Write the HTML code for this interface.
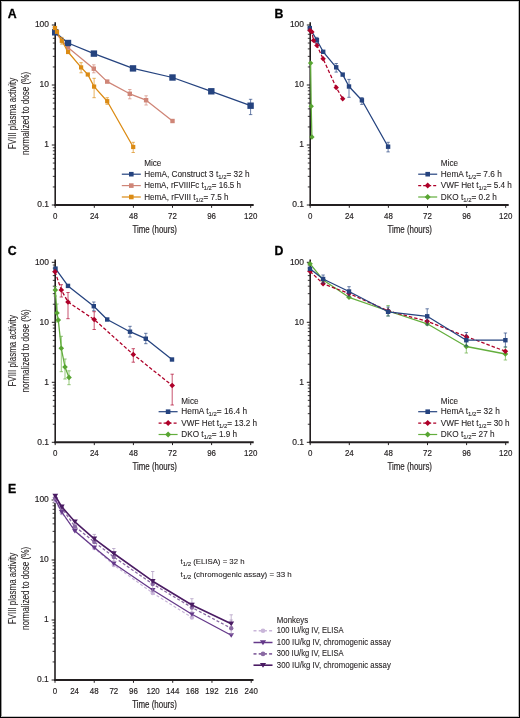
<!DOCTYPE html>
<html><head><meta charset="utf-8"><style>
html,body{margin:0;padding:0;background:#fff;}
body{width:520px;height:718px;overflow:hidden;}
.fig{position:relative;width:518px;height:716px;border:1px solid #000;box-sizing:content-box;}
svg{position:absolute;left:-1px;top:-1px;font-family:"Liberation Sans", sans-serif;will-change:transform;}
text{stroke:#231f20;stroke-width:0.1px;}
.num{stroke-width:0.2px;}
.let{stroke:#000;stroke-width:0.3px;}
</style></head><body><div class="fig">
<svg width="520" height="718" viewBox="0 0 520 718">
<line x1="55.2" y1="22.3" x2="55.2" y2="206" stroke="#231f20" stroke-width="1.6"/>
<line x1="54.400000000000006" y1="205" x2="253.7" y2="205" stroke="#231f20" stroke-width="2"/>
<line x1="51.800000000000004" y1="25" x2="55.2" y2="25" stroke="#231f20" stroke-width="1"/>
<line x1="52.800000000000004" y1="66.94" x2="55.2" y2="66.94" stroke="#231f20" stroke-width="0.9"/>
<line x1="52.800000000000004" y1="56.37" x2="55.2" y2="56.37" stroke="#231f20" stroke-width="0.9"/>
<line x1="52.800000000000004" y1="48.88" x2="55.2" y2="48.88" stroke="#231f20" stroke-width="0.9"/>
<line x1="52.800000000000004" y1="43.06" x2="55.2" y2="43.06" stroke="#231f20" stroke-width="0.9"/>
<line x1="52.800000000000004" y1="38.31" x2="55.2" y2="38.31" stroke="#231f20" stroke-width="0.9"/>
<line x1="52.800000000000004" y1="34.29" x2="55.2" y2="34.29" stroke="#231f20" stroke-width="0.9"/>
<line x1="52.800000000000004" y1="30.81" x2="55.2" y2="30.81" stroke="#231f20" stroke-width="0.9"/>
<line x1="52.800000000000004" y1="27.75" x2="55.2" y2="27.75" stroke="#231f20" stroke-width="0.9"/>
<line x1="51.800000000000004" y1="85" x2="55.2" y2="85" stroke="#231f20" stroke-width="1"/>
<line x1="52.800000000000004" y1="126.94" x2="55.2" y2="126.94" stroke="#231f20" stroke-width="0.9"/>
<line x1="52.800000000000004" y1="116.37" x2="55.2" y2="116.37" stroke="#231f20" stroke-width="0.9"/>
<line x1="52.800000000000004" y1="108.88" x2="55.2" y2="108.88" stroke="#231f20" stroke-width="0.9"/>
<line x1="52.800000000000004" y1="103.06" x2="55.2" y2="103.06" stroke="#231f20" stroke-width="0.9"/>
<line x1="52.800000000000004" y1="98.31" x2="55.2" y2="98.31" stroke="#231f20" stroke-width="0.9"/>
<line x1="52.800000000000004" y1="94.29" x2="55.2" y2="94.29" stroke="#231f20" stroke-width="0.9"/>
<line x1="52.800000000000004" y1="90.81" x2="55.2" y2="90.81" stroke="#231f20" stroke-width="0.9"/>
<line x1="52.800000000000004" y1="87.75" x2="55.2" y2="87.75" stroke="#231f20" stroke-width="0.9"/>
<line x1="51.800000000000004" y1="145" x2="55.2" y2="145" stroke="#231f20" stroke-width="1"/>
<line x1="52.800000000000004" y1="186.94" x2="55.2" y2="186.94" stroke="#231f20" stroke-width="0.9"/>
<line x1="52.800000000000004" y1="176.37" x2="55.2" y2="176.37" stroke="#231f20" stroke-width="0.9"/>
<line x1="52.800000000000004" y1="168.88" x2="55.2" y2="168.88" stroke="#231f20" stroke-width="0.9"/>
<line x1="52.800000000000004" y1="163.06" x2="55.2" y2="163.06" stroke="#231f20" stroke-width="0.9"/>
<line x1="52.800000000000004" y1="158.31" x2="55.2" y2="158.31" stroke="#231f20" stroke-width="0.9"/>
<line x1="52.800000000000004" y1="154.29" x2="55.2" y2="154.29" stroke="#231f20" stroke-width="0.9"/>
<line x1="52.800000000000004" y1="150.81" x2="55.2" y2="150.81" stroke="#231f20" stroke-width="0.9"/>
<line x1="52.800000000000004" y1="147.75" x2="55.2" y2="147.75" stroke="#231f20" stroke-width="0.9"/>
<line x1="51.800000000000004" y1="205" x2="55.2" y2="205" stroke="#231f20" stroke-width="1"/>
<line x1="55.20" y1="205" x2="55.20" y2="207.8" stroke="#231f20" stroke-width="1"/>
<line x1="94.30" y1="205" x2="94.30" y2="207.8" stroke="#231f20" stroke-width="1"/>
<line x1="133.40" y1="205" x2="133.40" y2="207.8" stroke="#231f20" stroke-width="1"/>
<line x1="172.50" y1="205" x2="172.50" y2="207.8" stroke="#231f20" stroke-width="1"/>
<line x1="211.60" y1="205" x2="211.60" y2="207.8" stroke="#231f20" stroke-width="1"/>
<line x1="250.70" y1="205" x2="250.70" y2="207.8" stroke="#231f20" stroke-width="1"/>
<text x="49.00" y="27.30" font-size="9.7" text-anchor="end" font-weight="normal" fill="#231f20" textLength="14.10" lengthAdjust="spacingAndGlyphs" class="num">100</text>
<text x="49.00" y="87.30" font-size="9.7" text-anchor="end" font-weight="normal" fill="#231f20" textLength="9.40" lengthAdjust="spacingAndGlyphs" class="num">10</text>
<text x="49.00" y="147.30" font-size="9.7" text-anchor="end" font-weight="normal" fill="#231f20" textLength="4.70" lengthAdjust="spacingAndGlyphs" class="num">1</text>
<text x="49.00" y="207.30" font-size="9.7" text-anchor="end" font-weight="normal" fill="#231f20" textLength="11.80" lengthAdjust="spacingAndGlyphs" class="num">0.1</text>
<text x="55.20" y="219.05" font-size="9.7" text-anchor="middle" font-weight="normal" fill="#231f20" textLength="4.40" lengthAdjust="spacingAndGlyphs" class="num">0</text>
<text x="94.30" y="219.05" font-size="9.7" text-anchor="middle" font-weight="normal" fill="#231f20" textLength="8.80" lengthAdjust="spacingAndGlyphs" class="num">24</text>
<text x="133.40" y="219.05" font-size="9.7" text-anchor="middle" font-weight="normal" fill="#231f20" textLength="8.80" lengthAdjust="spacingAndGlyphs" class="num">48</text>
<text x="172.50" y="219.05" font-size="9.7" text-anchor="middle" font-weight="normal" fill="#231f20" textLength="8.80" lengthAdjust="spacingAndGlyphs" class="num">72</text>
<text x="211.60" y="219.05" font-size="9.7" text-anchor="middle" font-weight="normal" fill="#231f20" textLength="8.80" lengthAdjust="spacingAndGlyphs" class="num">96</text>
<text x="250.70" y="219.05" font-size="9.7" text-anchor="middle" font-weight="normal" fill="#231f20" textLength="13.20" lengthAdjust="spacingAndGlyphs" class="num">120</text>
<text x="154.70" y="232.60" font-size="10.6" text-anchor="middle" font-weight="normal" fill="#231f20" textLength="44.60" lengthAdjust="spacingAndGlyphs" class="num">Time (hours)</text>
<g transform="translate(16.400000000000006,113.5) rotate(-90)">
<text x="0.00" y="0.00" font-size="10.4" text-anchor="middle" font-weight="normal" fill="#231f20" textLength="71.60" lengthAdjust="spacingAndGlyphs">FVIII plasma activity</text>
<text x="0.00" y="12.70" font-size="10.4" text-anchor="middle" font-weight="normal" fill="#231f20" textLength="83.20" lengthAdjust="spacingAndGlyphs">normalized to dose (%)</text>
</g>
<text x="7.80" y="18.00" font-size="12.3" text-anchor="start" font-weight="bold" fill="#000" class="let">A</text>
<path d="M92.1,64.8H95.5M93.8,64.8V72.8M92.1,72.8H95.5" stroke="#cf8577" stroke-width="0.85" stroke-opacity="0.8" fill="none"/>
<path d="M128.10000000000002,89.5H131.5M129.8,89.5V98.8M128.10000000000002,98.8H131.5" stroke="#cf8577" stroke-width="0.85" stroke-opacity="0.8" fill="none"/>
<path d="M144.4,95.8H147.79999999999998M146.1,95.8V105M144.4,105H147.79999999999998" stroke="#cf8577" stroke-width="0.85" stroke-opacity="0.8" fill="none"/>
<path d="M54.30,31.40 L68.00,47.60 L93.80,68.70 L107.20,81.60 L129.80,93.80 L146.10,100.20 L172.50,121.00" fill="none" stroke="#cf8577" stroke-width="1.28" stroke-linejoin="round"/>
<rect x="52.10" y="29.20" width="4.4" height="4.4" fill="#cf8577"/>
<rect x="65.80" y="45.40" width="4.4" height="4.4" fill="#cf8577"/>
<rect x="91.60" y="66.50" width="4.4" height="4.4" fill="#cf8577"/>
<rect x="105.00" y="79.40" width="4.4" height="4.4" fill="#cf8577"/>
<rect x="127.60" y="91.60" width="4.4" height="4.4" fill="#cf8577"/>
<rect x="143.90" y="98.00" width="4.4" height="4.4" fill="#cf8577"/>
<rect x="170.30" y="118.80" width="4.4" height="4.4" fill="#cf8577"/>
<path d="M248.9,99.3H252.29999999999998M250.6,99.3V114.6M248.9,114.6H252.29999999999998" stroke="#25437f" stroke-width="0.85" stroke-opacity="0.8" fill="none"/>
<path d="M55.20,32.30 L68.00,43.00 L93.90,53.60 L133.00,68.40 L172.50,77.50 L211.30,91.30 L250.60,105.70" fill="none" stroke="#25437f" stroke-width="1.28" stroke-linejoin="round"/>
<rect x="52.00" y="29.10" width="6.4" height="6.4" fill="#25437f"/>
<rect x="64.80" y="39.80" width="6.4" height="6.4" fill="#25437f"/>
<rect x="90.70" y="50.40" width="6.4" height="6.4" fill="#25437f"/>
<rect x="129.80" y="65.20" width="6.4" height="6.4" fill="#25437f"/>
<rect x="169.30" y="74.30" width="6.4" height="6.4" fill="#25437f"/>
<rect x="208.10" y="88.10" width="6.4" height="6.4" fill="#25437f"/>
<rect x="247.40" y="102.50" width="6.4" height="6.4" fill="#25437f"/>
<path d="M60.099999999999994,37.4H63.5M61.8,37.4V44.1M60.099999999999994,44.1H63.5" stroke="#db8b14" stroke-width="0.85" stroke-opacity="0.8" fill="none"/>
<path d="M79.39999999999999,62.7H82.8M81.1,62.7V72.8M79.39999999999999,72.8H82.8" stroke="#db8b14" stroke-width="0.85" stroke-opacity="0.8" fill="none"/>
<path d="M92.39999999999999,78.3H95.8M94.1,78.3V97.7M92.39999999999999,97.7H95.8" stroke="#db8b14" stroke-width="0.85" stroke-opacity="0.8" fill="none"/>
<path d="M105.5,97.7H108.9M107.2,97.7V104.3M105.5,104.3H108.9" stroke="#db8b14" stroke-width="0.85" stroke-opacity="0.8" fill="none"/>
<path d="M131.5,142.3H134.89999999999998M133.2,142.3V152.5M131.5,152.5H134.89999999999998" stroke="#db8b14" stroke-width="0.85" stroke-opacity="0.8" fill="none"/>
<path d="M55.00,28.00 L57.00,31.80 L61.80,40.80 L68.10,52.00 L81.10,67.40 L87.80,74.50 L94.10,86.60 L107.20,101.20 L133.20,147.00" fill="none" stroke="#db8b14" stroke-width="1.28" stroke-linejoin="round"/>
<rect x="52.90" y="25.90" width="4.2" height="4.2" fill="#db8b14"/>
<rect x="54.90" y="29.70" width="4.2" height="4.2" fill="#db8b14"/>
<rect x="59.70" y="38.70" width="4.2" height="4.2" fill="#db8b14"/>
<rect x="66.00" y="49.90" width="4.2" height="4.2" fill="#db8b14"/>
<rect x="79.00" y="65.30" width="4.2" height="4.2" fill="#db8b14"/>
<rect x="85.70" y="72.40" width="4.2" height="4.2" fill="#db8b14"/>
<rect x="92.00" y="84.50" width="4.2" height="4.2" fill="#db8b14"/>
<rect x="105.10" y="99.10" width="4.2" height="4.2" fill="#db8b14"/>
<rect x="131.10" y="144.90" width="4.2" height="4.2" fill="#db8b14"/>
<text x="144.20" y="165.90" font-size="8.6" text-anchor="start" font-weight="normal" fill="#231f20" textLength="17.20" lengthAdjust="spacingAndGlyphs">Mice</text>
<line x1="121.8" y1="174.2" x2="140.8" y2="174.2" stroke="#25437f" stroke-width="1.2"/>
<rect x="129.00" y="171.90" width="4.6" height="4.6" fill="#25437f"/>
<text x="144.20" y="176.70" font-size="8.6" text-anchor="start" font-weight="normal" fill="#231f20" textLength="105.40" lengthAdjust="spacingAndGlyphs">HemA, Construct 3 t<tspan font-size="6.2" dy="2.2">1/2</tspan><tspan dy="-2.2">= 32 h</tspan></text>
<line x1="121.8" y1="185.6" x2="140.8" y2="185.6" stroke="#cf8577" stroke-width="1.2"/>
<rect x="129.00" y="183.30" width="4.6" height="4.6" fill="#cf8577"/>
<text x="144.20" y="188.10" font-size="8.6" text-anchor="start" font-weight="normal" fill="#231f20" textLength="96.80" lengthAdjust="spacingAndGlyphs">HemA, rFVIIIFc t<tspan font-size="6.2" dy="2.2">1/2</tspan><tspan dy="-2.2">= 16.5 h</tspan></text>
<line x1="121.8" y1="197.0" x2="140.8" y2="197.0" stroke="#db8b14" stroke-width="1.2"/>
<rect x="129.00" y="194.70" width="4.6" height="4.6" fill="#db8b14"/>
<text x="144.20" y="199.50" font-size="8.6" text-anchor="start" font-weight="normal" fill="#231f20" textLength="84.40" lengthAdjust="spacingAndGlyphs">HemA, rFVIII t<tspan font-size="6.2" dy="2.2">1/2</tspan><tspan dy="-2.2">= 7.5 h</tspan></text>
<line x1="310.2" y1="22.3" x2="310.2" y2="206" stroke="#231f20" stroke-width="1.6"/>
<line x1="309.4" y1="205" x2="508.7" y2="205" stroke="#231f20" stroke-width="2"/>
<line x1="306.8" y1="25" x2="310.2" y2="25" stroke="#231f20" stroke-width="1"/>
<line x1="307.8" y1="66.94" x2="310.2" y2="66.94" stroke="#231f20" stroke-width="0.9"/>
<line x1="307.8" y1="56.37" x2="310.2" y2="56.37" stroke="#231f20" stroke-width="0.9"/>
<line x1="307.8" y1="48.88" x2="310.2" y2="48.88" stroke="#231f20" stroke-width="0.9"/>
<line x1="307.8" y1="43.06" x2="310.2" y2="43.06" stroke="#231f20" stroke-width="0.9"/>
<line x1="307.8" y1="38.31" x2="310.2" y2="38.31" stroke="#231f20" stroke-width="0.9"/>
<line x1="307.8" y1="34.29" x2="310.2" y2="34.29" stroke="#231f20" stroke-width="0.9"/>
<line x1="307.8" y1="30.81" x2="310.2" y2="30.81" stroke="#231f20" stroke-width="0.9"/>
<line x1="307.8" y1="27.75" x2="310.2" y2="27.75" stroke="#231f20" stroke-width="0.9"/>
<line x1="306.8" y1="85" x2="310.2" y2="85" stroke="#231f20" stroke-width="1"/>
<line x1="307.8" y1="126.94" x2="310.2" y2="126.94" stroke="#231f20" stroke-width="0.9"/>
<line x1="307.8" y1="116.37" x2="310.2" y2="116.37" stroke="#231f20" stroke-width="0.9"/>
<line x1="307.8" y1="108.88" x2="310.2" y2="108.88" stroke="#231f20" stroke-width="0.9"/>
<line x1="307.8" y1="103.06" x2="310.2" y2="103.06" stroke="#231f20" stroke-width="0.9"/>
<line x1="307.8" y1="98.31" x2="310.2" y2="98.31" stroke="#231f20" stroke-width="0.9"/>
<line x1="307.8" y1="94.29" x2="310.2" y2="94.29" stroke="#231f20" stroke-width="0.9"/>
<line x1="307.8" y1="90.81" x2="310.2" y2="90.81" stroke="#231f20" stroke-width="0.9"/>
<line x1="307.8" y1="87.75" x2="310.2" y2="87.75" stroke="#231f20" stroke-width="0.9"/>
<line x1="306.8" y1="145" x2="310.2" y2="145" stroke="#231f20" stroke-width="1"/>
<line x1="307.8" y1="186.94" x2="310.2" y2="186.94" stroke="#231f20" stroke-width="0.9"/>
<line x1="307.8" y1="176.37" x2="310.2" y2="176.37" stroke="#231f20" stroke-width="0.9"/>
<line x1="307.8" y1="168.88" x2="310.2" y2="168.88" stroke="#231f20" stroke-width="0.9"/>
<line x1="307.8" y1="163.06" x2="310.2" y2="163.06" stroke="#231f20" stroke-width="0.9"/>
<line x1="307.8" y1="158.31" x2="310.2" y2="158.31" stroke="#231f20" stroke-width="0.9"/>
<line x1="307.8" y1="154.29" x2="310.2" y2="154.29" stroke="#231f20" stroke-width="0.9"/>
<line x1="307.8" y1="150.81" x2="310.2" y2="150.81" stroke="#231f20" stroke-width="0.9"/>
<line x1="307.8" y1="147.75" x2="310.2" y2="147.75" stroke="#231f20" stroke-width="0.9"/>
<line x1="306.8" y1="205" x2="310.2" y2="205" stroke="#231f20" stroke-width="1"/>
<line x1="310.20" y1="205" x2="310.20" y2="207.8" stroke="#231f20" stroke-width="1"/>
<line x1="349.30" y1="205" x2="349.30" y2="207.8" stroke="#231f20" stroke-width="1"/>
<line x1="388.40" y1="205" x2="388.40" y2="207.8" stroke="#231f20" stroke-width="1"/>
<line x1="427.50" y1="205" x2="427.50" y2="207.8" stroke="#231f20" stroke-width="1"/>
<line x1="466.60" y1="205" x2="466.60" y2="207.8" stroke="#231f20" stroke-width="1"/>
<line x1="505.70" y1="205" x2="505.70" y2="207.8" stroke="#231f20" stroke-width="1"/>
<text x="304.00" y="27.30" font-size="9.7" text-anchor="end" font-weight="normal" fill="#231f20" textLength="14.10" lengthAdjust="spacingAndGlyphs" class="num">100</text>
<text x="304.00" y="87.30" font-size="9.7" text-anchor="end" font-weight="normal" fill="#231f20" textLength="9.40" lengthAdjust="spacingAndGlyphs" class="num">10</text>
<text x="304.00" y="147.30" font-size="9.7" text-anchor="end" font-weight="normal" fill="#231f20" textLength="4.70" lengthAdjust="spacingAndGlyphs" class="num">1</text>
<text x="304.00" y="207.30" font-size="9.7" text-anchor="end" font-weight="normal" fill="#231f20" textLength="11.80" lengthAdjust="spacingAndGlyphs" class="num">0.1</text>
<text x="310.20" y="219.05" font-size="9.7" text-anchor="middle" font-weight="normal" fill="#231f20" textLength="4.40" lengthAdjust="spacingAndGlyphs" class="num">0</text>
<text x="349.30" y="219.05" font-size="9.7" text-anchor="middle" font-weight="normal" fill="#231f20" textLength="8.80" lengthAdjust="spacingAndGlyphs" class="num">24</text>
<text x="388.40" y="219.05" font-size="9.7" text-anchor="middle" font-weight="normal" fill="#231f20" textLength="8.80" lengthAdjust="spacingAndGlyphs" class="num">48</text>
<text x="427.50" y="219.05" font-size="9.7" text-anchor="middle" font-weight="normal" fill="#231f20" textLength="8.80" lengthAdjust="spacingAndGlyphs" class="num">72</text>
<text x="466.60" y="219.05" font-size="9.7" text-anchor="middle" font-weight="normal" fill="#231f20" textLength="8.80" lengthAdjust="spacingAndGlyphs" class="num">96</text>
<text x="505.70" y="219.05" font-size="9.7" text-anchor="middle" font-weight="normal" fill="#231f20" textLength="13.20" lengthAdjust="spacingAndGlyphs" class="num">120</text>
<text x="409.70" y="232.60" font-size="10.6" text-anchor="middle" font-weight="normal" fill="#231f20" textLength="44.60" lengthAdjust="spacingAndGlyphs" class="num">Time (hours)</text>
<text x="274.40" y="18.00" font-size="12.3" text-anchor="start" font-weight="bold" fill="#000" class="let">B</text>
<path d="M310.60,63.10 L311.20,106.30 L311.90,137.00" fill="none" stroke="#63ae3d" stroke-width="1.28" stroke-linejoin="round"/>
<path d="M310.60,60.40 L313.30,63.10 L310.60,65.80 L307.90,63.10Z" fill="#58a532"/>
<path d="M311.20,103.60 L313.90,106.30 L311.20,109.00 L308.50,106.30Z" fill="#58a532"/>
<path d="M311.90,134.30 L314.60,137.00 L311.90,139.70 L309.20,137.00Z" fill="#58a532"/>
<path d="M315.2,37.4H318.59999999999997M316.9,37.4V43.5M315.2,43.5H318.59999999999997" stroke="#25437f" stroke-width="0.85" stroke-opacity="0.8" fill="none"/>
<path d="M334.5,63.5H337.9M336.2,63.5V72.1M334.5,72.1H337.9" stroke="#25437f" stroke-width="0.85" stroke-opacity="0.8" fill="none"/>
<path d="M347.3,79.4H350.7M349.0,79.4V97.3M347.3,97.3H350.7" stroke="#25437f" stroke-width="0.85" stroke-opacity="0.8" fill="none"/>
<path d="M360.2,97.6H363.59999999999997M361.9,97.6V104.4M360.2,104.4H363.59999999999997" stroke="#25437f" stroke-width="0.85" stroke-opacity="0.8" fill="none"/>
<path d="M386.40000000000003,142.3H389.8M388.1,142.3V151.9M386.40000000000003,151.9H389.8" stroke="#25437f" stroke-width="0.85" stroke-opacity="0.8" fill="none"/>
<path d="M309.80,28.10 L316.90,40.20 L323.20,51.80 L336.20,67.30 L342.70,74.60 L349.00,86.50 L361.90,100.30 L388.10,146.70" fill="none" stroke="#25437f" stroke-width="1.28" stroke-linejoin="round"/>
<rect x="307.60" y="25.90" width="4.4" height="4.4" fill="#25437f"/>
<rect x="314.70" y="38.00" width="4.4" height="4.4" fill="#25437f"/>
<rect x="321.00" y="49.60" width="4.4" height="4.4" fill="#25437f"/>
<rect x="334.00" y="65.10" width="4.4" height="4.4" fill="#25437f"/>
<rect x="340.50" y="72.40" width="4.4" height="4.4" fill="#25437f"/>
<rect x="346.80" y="84.30" width="4.4" height="4.4" fill="#25437f"/>
<rect x="359.70" y="98.10" width="4.4" height="4.4" fill="#25437f"/>
<rect x="385.90" y="144.50" width="4.4" height="4.4" fill="#25437f"/>
<path d="M310.00,30.40 L311.90,31.90 L313.50,40.40 L316.90,45.40 L323.10,58.80 L336.20,87.50 L342.70,98.70" fill="none" stroke="#ae0029" stroke-width="1.28" stroke-dasharray="3.5,2" stroke-linejoin="round"/>
<path d="M310.00,27.70 L312.70,30.40 L310.00,33.10 L307.30,30.40Z" fill="#ae0029"/>
<path d="M311.90,29.20 L314.60,31.90 L311.90,34.60 L309.20,31.90Z" fill="#ae0029"/>
<path d="M313.50,37.70 L316.20,40.40 L313.50,43.10 L310.80,40.40Z" fill="#ae0029"/>
<path d="M316.90,42.70 L319.60,45.40 L316.90,48.10 L314.20,45.40Z" fill="#ae0029"/>
<path d="M323.10,56.10 L325.80,58.80 L323.10,61.50 L320.40,58.80Z" fill="#ae0029"/>
<path d="M336.20,84.80 L338.90,87.50 L336.20,90.20 L333.50,87.50Z" fill="#ae0029"/>
<path d="M342.70,96.00 L345.40,98.70 L342.70,101.40 L340.00,98.70Z" fill="#ae0029"/>
<text x="440.80" y="165.90" font-size="8.6" text-anchor="start" font-weight="normal" fill="#231f20" textLength="17.20" lengthAdjust="spacingAndGlyphs">Mice</text>
<line x1="418.2" y1="174.2" x2="437.2" y2="174.2" stroke="#25437f" stroke-width="1.2"/>
<rect x="425.40" y="171.90" width="4.6" height="4.6" fill="#25437f"/>
<text x="440.80" y="176.70" font-size="8.6" text-anchor="start" font-weight="normal" fill="#231f20" textLength="61.00" lengthAdjust="spacingAndGlyphs">HemA t<tspan font-size="6.2" dy="2.2">1/2</tspan><tspan dy="-2.2">= 7.6 h</tspan></text>
<line x1="418.2" y1="185.6" x2="437.2" y2="185.6" stroke="#ae0029" stroke-width="1.2" stroke-dasharray="3,2"/>
<path d="M427.70,182.60 L430.70,185.60 L427.70,188.60 L424.70,185.60Z" fill="#ae0029"/>
<text x="440.80" y="188.10" font-size="8.6" text-anchor="start" font-weight="normal" fill="#231f20" textLength="71.10" lengthAdjust="spacingAndGlyphs">VWF Het t<tspan font-size="6.2" dy="2.2">1/2</tspan><tspan dy="-2.2">= 5.4 h</tspan></text>
<line x1="418.2" y1="197.0" x2="437.2" y2="197.0" stroke="#63ae3d" stroke-width="1.2"/>
<path d="M427.70,194.00 L430.70,197.00 L427.70,200.00 L424.70,197.00Z" fill="#58a532"/>
<text x="440.80" y="199.50" font-size="8.6" text-anchor="start" font-weight="normal" fill="#231f20" textLength="56.10" lengthAdjust="spacingAndGlyphs">DKO t<tspan font-size="6.2" dy="2.2">1/2</tspan><tspan dy="-2.2">= 0.2 h</tspan></text>
<line x1="55.2" y1="259.6" x2="55.2" y2="443.3" stroke="#231f20" stroke-width="1.6"/>
<line x1="54.400000000000006" y1="442.3" x2="253.7" y2="442.3" stroke="#231f20" stroke-width="2"/>
<line x1="51.800000000000004" y1="262.3" x2="55.2" y2="262.3" stroke="#231f20" stroke-width="1"/>
<line x1="52.800000000000004" y1="304.24" x2="55.2" y2="304.24" stroke="#231f20" stroke-width="0.9"/>
<line x1="52.800000000000004" y1="293.67" x2="55.2" y2="293.67" stroke="#231f20" stroke-width="0.9"/>
<line x1="52.800000000000004" y1="286.18" x2="55.2" y2="286.18" stroke="#231f20" stroke-width="0.9"/>
<line x1="52.800000000000004" y1="280.36" x2="55.2" y2="280.36" stroke="#231f20" stroke-width="0.9"/>
<line x1="52.800000000000004" y1="275.61" x2="55.2" y2="275.61" stroke="#231f20" stroke-width="0.9"/>
<line x1="52.800000000000004" y1="271.59" x2="55.2" y2="271.59" stroke="#231f20" stroke-width="0.9"/>
<line x1="52.800000000000004" y1="268.11" x2="55.2" y2="268.11" stroke="#231f20" stroke-width="0.9"/>
<line x1="52.800000000000004" y1="265.05" x2="55.2" y2="265.05" stroke="#231f20" stroke-width="0.9"/>
<line x1="51.800000000000004" y1="322.3" x2="55.2" y2="322.3" stroke="#231f20" stroke-width="1"/>
<line x1="52.800000000000004" y1="364.24" x2="55.2" y2="364.24" stroke="#231f20" stroke-width="0.9"/>
<line x1="52.800000000000004" y1="353.67" x2="55.2" y2="353.67" stroke="#231f20" stroke-width="0.9"/>
<line x1="52.800000000000004" y1="346.18" x2="55.2" y2="346.18" stroke="#231f20" stroke-width="0.9"/>
<line x1="52.800000000000004" y1="340.36" x2="55.2" y2="340.36" stroke="#231f20" stroke-width="0.9"/>
<line x1="52.800000000000004" y1="335.61" x2="55.2" y2="335.61" stroke="#231f20" stroke-width="0.9"/>
<line x1="52.800000000000004" y1="331.59" x2="55.2" y2="331.59" stroke="#231f20" stroke-width="0.9"/>
<line x1="52.800000000000004" y1="328.11" x2="55.2" y2="328.11" stroke="#231f20" stroke-width="0.9"/>
<line x1="52.800000000000004" y1="325.05" x2="55.2" y2="325.05" stroke="#231f20" stroke-width="0.9"/>
<line x1="51.800000000000004" y1="382.3" x2="55.2" y2="382.3" stroke="#231f20" stroke-width="1"/>
<line x1="52.800000000000004" y1="424.24" x2="55.2" y2="424.24" stroke="#231f20" stroke-width="0.9"/>
<line x1="52.800000000000004" y1="413.67" x2="55.2" y2="413.67" stroke="#231f20" stroke-width="0.9"/>
<line x1="52.800000000000004" y1="406.18" x2="55.2" y2="406.18" stroke="#231f20" stroke-width="0.9"/>
<line x1="52.800000000000004" y1="400.36" x2="55.2" y2="400.36" stroke="#231f20" stroke-width="0.9"/>
<line x1="52.800000000000004" y1="395.61" x2="55.2" y2="395.61" stroke="#231f20" stroke-width="0.9"/>
<line x1="52.800000000000004" y1="391.59" x2="55.2" y2="391.59" stroke="#231f20" stroke-width="0.9"/>
<line x1="52.800000000000004" y1="388.11" x2="55.2" y2="388.11" stroke="#231f20" stroke-width="0.9"/>
<line x1="52.800000000000004" y1="385.05" x2="55.2" y2="385.05" stroke="#231f20" stroke-width="0.9"/>
<line x1="51.800000000000004" y1="442.3" x2="55.2" y2="442.3" stroke="#231f20" stroke-width="1"/>
<line x1="55.20" y1="442.3" x2="55.20" y2="445.1" stroke="#231f20" stroke-width="1"/>
<line x1="94.30" y1="442.3" x2="94.30" y2="445.1" stroke="#231f20" stroke-width="1"/>
<line x1="133.40" y1="442.3" x2="133.40" y2="445.1" stroke="#231f20" stroke-width="1"/>
<line x1="172.50" y1="442.3" x2="172.50" y2="445.1" stroke="#231f20" stroke-width="1"/>
<line x1="211.60" y1="442.3" x2="211.60" y2="445.1" stroke="#231f20" stroke-width="1"/>
<line x1="250.70" y1="442.3" x2="250.70" y2="445.1" stroke="#231f20" stroke-width="1"/>
<text x="49.00" y="264.60" font-size="9.7" text-anchor="end" font-weight="normal" fill="#231f20" textLength="14.10" lengthAdjust="spacingAndGlyphs" class="num">100</text>
<text x="49.00" y="324.60" font-size="9.7" text-anchor="end" font-weight="normal" fill="#231f20" textLength="9.40" lengthAdjust="spacingAndGlyphs" class="num">10</text>
<text x="49.00" y="384.60" font-size="9.7" text-anchor="end" font-weight="normal" fill="#231f20" textLength="4.70" lengthAdjust="spacingAndGlyphs" class="num">1</text>
<text x="49.00" y="444.60" font-size="9.7" text-anchor="end" font-weight="normal" fill="#231f20" textLength="11.80" lengthAdjust="spacingAndGlyphs" class="num">0.1</text>
<text x="55.20" y="456.35" font-size="9.7" text-anchor="middle" font-weight="normal" fill="#231f20" textLength="4.40" lengthAdjust="spacingAndGlyphs" class="num">0</text>
<text x="94.30" y="456.35" font-size="9.7" text-anchor="middle" font-weight="normal" fill="#231f20" textLength="8.80" lengthAdjust="spacingAndGlyphs" class="num">24</text>
<text x="133.40" y="456.35" font-size="9.7" text-anchor="middle" font-weight="normal" fill="#231f20" textLength="8.80" lengthAdjust="spacingAndGlyphs" class="num">48</text>
<text x="172.50" y="456.35" font-size="9.7" text-anchor="middle" font-weight="normal" fill="#231f20" textLength="8.80" lengthAdjust="spacingAndGlyphs" class="num">72</text>
<text x="211.60" y="456.35" font-size="9.7" text-anchor="middle" font-weight="normal" fill="#231f20" textLength="8.80" lengthAdjust="spacingAndGlyphs" class="num">96</text>
<text x="250.70" y="456.35" font-size="9.7" text-anchor="middle" font-weight="normal" fill="#231f20" textLength="13.20" lengthAdjust="spacingAndGlyphs" class="num">120</text>
<text x="154.70" y="469.90" font-size="10.6" text-anchor="middle" font-weight="normal" fill="#231f20" textLength="44.60" lengthAdjust="spacingAndGlyphs" class="num">Time (hours)</text>
<g transform="translate(16.400000000000006,350.8) rotate(-90)">
<text x="0.00" y="0.00" font-size="10.4" text-anchor="middle" font-weight="normal" fill="#231f20" textLength="71.60" lengthAdjust="spacingAndGlyphs">FVIII plasma activity</text>
<text x="0.00" y="12.70" font-size="10.4" text-anchor="middle" font-weight="normal" fill="#231f20" textLength="83.20" lengthAdjust="spacingAndGlyphs">normalized to dose (%)</text>
</g>
<text x="7.80" y="255.30" font-size="12.3" text-anchor="start" font-weight="bold" fill="#000" class="let">C</text>
<path d="M53.599999999999994,286.7H57.0M55.3,286.7V296M53.599999999999994,296H57.0" stroke="#63ae3d" stroke-width="0.85" stroke-opacity="0.8" fill="none"/>
<path d="M55.3,304.0H58.7M57.0,304.0V322M55.3,322H58.7" stroke="#63ae3d" stroke-width="0.85" stroke-opacity="0.8" fill="none"/>
<path d="M59.599999999999994,336.3H63.0M61.3,336.3V371.7M59.599999999999994,371.7H63.0" stroke="#63ae3d" stroke-width="0.85" stroke-opacity="0.8" fill="none"/>
<path d="M63.3,359.0H66.7M65.0,359.0V379.0M63.3,379.0H66.7" stroke="#63ae3d" stroke-width="0.85" stroke-opacity="0.8" fill="none"/>
<path d="M67.3,370.8H70.7M69.0,370.8V384.7M67.3,384.7H70.7" stroke="#63ae3d" stroke-width="0.85" stroke-opacity="0.8" fill="none"/>
<path d="M55.30,290.00 L57.00,313.00 L58.30,320.00 L61.30,348.30 L65.00,367.00 L69.00,377.40" fill="none" stroke="#63ae3d" stroke-width="1.28" stroke-linejoin="round"/>
<path d="M55.30,287.20 L58.10,290.00 L55.30,292.80 L52.50,290.00Z" fill="#58a532"/>
<path d="M57.00,310.20 L59.80,313.00 L57.00,315.80 L54.20,313.00Z" fill="#58a532"/>
<path d="M58.30,317.20 L61.10,320.00 L58.30,322.80 L55.50,320.00Z" fill="#58a532"/>
<path d="M61.30,345.50 L64.10,348.30 L61.30,351.10 L58.50,348.30Z" fill="#58a532"/>
<path d="M65.00,364.20 L67.80,367.00 L65.00,369.80 L62.20,367.00Z" fill="#58a532"/>
<path d="M69.00,374.60 L71.80,377.40 L69.00,380.20 L66.20,377.40Z" fill="#58a532"/>
<path d="M92.1,302.0H95.5M93.8,302.0V310.8M92.1,310.8H95.5" stroke="#25437f" stroke-width="0.85" stroke-opacity="0.8" fill="none"/>
<path d="M128.3,326.3H131.7M130.0,326.3V337.0M128.3,337.0H131.7" stroke="#25437f" stroke-width="0.85" stroke-opacity="0.8" fill="none"/>
<path d="M144.10000000000002,333.3H147.5M145.8,333.3V343.7M144.10000000000002,343.7H147.5" stroke="#25437f" stroke-width="0.85" stroke-opacity="0.8" fill="none"/>
<path d="M55.50,268.60 L68.00,285.90 L93.80,306.20 L107.20,319.50 L130.00,331.70 L145.80,338.70 L172.00,359.50" fill="none" stroke="#25437f" stroke-width="1.28" stroke-linejoin="round"/>
<rect x="53.30" y="266.40" width="4.4" height="4.4" fill="#25437f"/>
<rect x="65.80" y="283.70" width="4.4" height="4.4" fill="#25437f"/>
<rect x="91.60" y="304.00" width="4.4" height="4.4" fill="#25437f"/>
<rect x="105.00" y="317.30" width="4.4" height="4.4" fill="#25437f"/>
<rect x="127.80" y="329.50" width="4.4" height="4.4" fill="#25437f"/>
<rect x="143.60" y="336.50" width="4.4" height="4.4" fill="#25437f"/>
<rect x="169.80" y="357.30" width="4.4" height="4.4" fill="#25437f"/>
<path d="M59.599999999999994,284.7H63.0M61.3,284.7V297.0M59.599999999999994,297.0H63.0" stroke="#ae0029" stroke-width="0.85" stroke-opacity="0.8" fill="none"/>
<path d="M66.3,292.5H69.7M68.0,292.5V318.7M66.3,318.7H69.7" stroke="#ae0029" stroke-width="0.85" stroke-opacity="0.8" fill="none"/>
<path d="M92.5,311.7H95.9M94.2,311.7V329.5M92.5,329.5H95.9" stroke="#ae0029" stroke-width="0.85" stroke-opacity="0.8" fill="none"/>
<path d="M131.60000000000002,348.7H135.0M133.3,348.7V362.2M131.60000000000002,362.2H135.0" stroke="#ae0029" stroke-width="0.85" stroke-opacity="0.8" fill="none"/>
<path d="M170.5,374.2H173.89999999999998M172.2,374.2V405.0M170.5,405.0H173.89999999999998" stroke="#ae0029" stroke-width="0.85" stroke-opacity="0.8" fill="none"/>
<path d="M55.00,271.70 L61.30,290.00 L68.00,302.00 L94.20,319.50 L133.30,354.50 L172.20,385.50" fill="none" stroke="#ae0029" stroke-width="1.28" stroke-dasharray="3.5,2" stroke-linejoin="round"/>
<path d="M55.00,268.90 L57.80,271.70 L55.00,274.50 L52.20,271.70Z" fill="#ae0029"/>
<path d="M61.30,287.20 L64.10,290.00 L61.30,292.80 L58.50,290.00Z" fill="#ae0029"/>
<path d="M68.00,299.20 L70.80,302.00 L68.00,304.80 L65.20,302.00Z" fill="#ae0029"/>
<path d="M94.20,316.70 L97.00,319.50 L94.20,322.30 L91.40,319.50Z" fill="#ae0029"/>
<path d="M133.30,351.70 L136.10,354.50 L133.30,357.30 L130.50,354.50Z" fill="#ae0029"/>
<path d="M172.20,382.70 L175.00,385.50 L172.20,388.30 L169.40,385.50Z" fill="#ae0029"/>
<text x="181.30" y="403.60" font-size="8.6" text-anchor="start" font-weight="normal" fill="#231f20" textLength="17.20" lengthAdjust="spacingAndGlyphs">Mice</text>
<line x1="158.6" y1="411.7" x2="177.6" y2="411.7" stroke="#25437f" stroke-width="1.2"/>
<rect x="165.80" y="409.40" width="4.6" height="4.6" fill="#25437f"/>
<text x="181.30" y="414.20" font-size="8.6" text-anchor="start" font-weight="normal" fill="#231f20" textLength="65.80" lengthAdjust="spacingAndGlyphs">HemA t<tspan font-size="6.2" dy="2.2">1/2</tspan><tspan dy="-2.2">= 16.4 h</tspan></text>
<line x1="158.6" y1="423.1" x2="177.6" y2="423.1" stroke="#ae0029" stroke-width="1.2" stroke-dasharray="3,2"/>
<path d="M168.10,420.10 L171.10,423.10 L168.10,426.10 L165.10,423.10Z" fill="#ae0029"/>
<text x="181.30" y="425.60" font-size="8.6" text-anchor="start" font-weight="normal" fill="#231f20" textLength="75.80" lengthAdjust="spacingAndGlyphs">VWF Het t<tspan font-size="6.2" dy="2.2">1/2</tspan><tspan dy="-2.2">= 13.2 h</tspan></text>
<line x1="158.6" y1="434.5" x2="177.6" y2="434.5" stroke="#63ae3d" stroke-width="1.2"/>
<path d="M168.10,431.50 L171.10,434.50 L168.10,437.50 L165.10,434.50Z" fill="#58a532"/>
<text x="181.30" y="437.00" font-size="8.6" text-anchor="start" font-weight="normal" fill="#231f20" textLength="55.90" lengthAdjust="spacingAndGlyphs">DKO t<tspan font-size="6.2" dy="2.2">1/2</tspan><tspan dy="-2.2">= 1.9 h</tspan></text>
<line x1="310.2" y1="259.6" x2="310.2" y2="443.3" stroke="#231f20" stroke-width="1.6"/>
<line x1="309.4" y1="442.3" x2="508.7" y2="442.3" stroke="#231f20" stroke-width="2"/>
<line x1="306.8" y1="262.3" x2="310.2" y2="262.3" stroke="#231f20" stroke-width="1"/>
<line x1="307.8" y1="304.24" x2="310.2" y2="304.24" stroke="#231f20" stroke-width="0.9"/>
<line x1="307.8" y1="293.67" x2="310.2" y2="293.67" stroke="#231f20" stroke-width="0.9"/>
<line x1="307.8" y1="286.18" x2="310.2" y2="286.18" stroke="#231f20" stroke-width="0.9"/>
<line x1="307.8" y1="280.36" x2="310.2" y2="280.36" stroke="#231f20" stroke-width="0.9"/>
<line x1="307.8" y1="275.61" x2="310.2" y2="275.61" stroke="#231f20" stroke-width="0.9"/>
<line x1="307.8" y1="271.59" x2="310.2" y2="271.59" stroke="#231f20" stroke-width="0.9"/>
<line x1="307.8" y1="268.11" x2="310.2" y2="268.11" stroke="#231f20" stroke-width="0.9"/>
<line x1="307.8" y1="265.05" x2="310.2" y2="265.05" stroke="#231f20" stroke-width="0.9"/>
<line x1="306.8" y1="322.3" x2="310.2" y2="322.3" stroke="#231f20" stroke-width="1"/>
<line x1="307.8" y1="364.24" x2="310.2" y2="364.24" stroke="#231f20" stroke-width="0.9"/>
<line x1="307.8" y1="353.67" x2="310.2" y2="353.67" stroke="#231f20" stroke-width="0.9"/>
<line x1="307.8" y1="346.18" x2="310.2" y2="346.18" stroke="#231f20" stroke-width="0.9"/>
<line x1="307.8" y1="340.36" x2="310.2" y2="340.36" stroke="#231f20" stroke-width="0.9"/>
<line x1="307.8" y1="335.61" x2="310.2" y2="335.61" stroke="#231f20" stroke-width="0.9"/>
<line x1="307.8" y1="331.59" x2="310.2" y2="331.59" stroke="#231f20" stroke-width="0.9"/>
<line x1="307.8" y1="328.11" x2="310.2" y2="328.11" stroke="#231f20" stroke-width="0.9"/>
<line x1="307.8" y1="325.05" x2="310.2" y2="325.05" stroke="#231f20" stroke-width="0.9"/>
<line x1="306.8" y1="382.3" x2="310.2" y2="382.3" stroke="#231f20" stroke-width="1"/>
<line x1="307.8" y1="424.24" x2="310.2" y2="424.24" stroke="#231f20" stroke-width="0.9"/>
<line x1="307.8" y1="413.67" x2="310.2" y2="413.67" stroke="#231f20" stroke-width="0.9"/>
<line x1="307.8" y1="406.18" x2="310.2" y2="406.18" stroke="#231f20" stroke-width="0.9"/>
<line x1="307.8" y1="400.36" x2="310.2" y2="400.36" stroke="#231f20" stroke-width="0.9"/>
<line x1="307.8" y1="395.61" x2="310.2" y2="395.61" stroke="#231f20" stroke-width="0.9"/>
<line x1="307.8" y1="391.59" x2="310.2" y2="391.59" stroke="#231f20" stroke-width="0.9"/>
<line x1="307.8" y1="388.11" x2="310.2" y2="388.11" stroke="#231f20" stroke-width="0.9"/>
<line x1="307.8" y1="385.05" x2="310.2" y2="385.05" stroke="#231f20" stroke-width="0.9"/>
<line x1="306.8" y1="442.3" x2="310.2" y2="442.3" stroke="#231f20" stroke-width="1"/>
<line x1="310.20" y1="442.3" x2="310.20" y2="445.1" stroke="#231f20" stroke-width="1"/>
<line x1="349.30" y1="442.3" x2="349.30" y2="445.1" stroke="#231f20" stroke-width="1"/>
<line x1="388.40" y1="442.3" x2="388.40" y2="445.1" stroke="#231f20" stroke-width="1"/>
<line x1="427.50" y1="442.3" x2="427.50" y2="445.1" stroke="#231f20" stroke-width="1"/>
<line x1="466.60" y1="442.3" x2="466.60" y2="445.1" stroke="#231f20" stroke-width="1"/>
<line x1="505.70" y1="442.3" x2="505.70" y2="445.1" stroke="#231f20" stroke-width="1"/>
<text x="304.00" y="264.60" font-size="9.7" text-anchor="end" font-weight="normal" fill="#231f20" textLength="14.10" lengthAdjust="spacingAndGlyphs" class="num">100</text>
<text x="304.00" y="324.60" font-size="9.7" text-anchor="end" font-weight="normal" fill="#231f20" textLength="9.40" lengthAdjust="spacingAndGlyphs" class="num">10</text>
<text x="304.00" y="384.60" font-size="9.7" text-anchor="end" font-weight="normal" fill="#231f20" textLength="4.70" lengthAdjust="spacingAndGlyphs" class="num">1</text>
<text x="304.00" y="444.60" font-size="9.7" text-anchor="end" font-weight="normal" fill="#231f20" textLength="11.80" lengthAdjust="spacingAndGlyphs" class="num">0.1</text>
<text x="310.20" y="456.35" font-size="9.7" text-anchor="middle" font-weight="normal" fill="#231f20" textLength="4.40" lengthAdjust="spacingAndGlyphs" class="num">0</text>
<text x="349.30" y="456.35" font-size="9.7" text-anchor="middle" font-weight="normal" fill="#231f20" textLength="8.80" lengthAdjust="spacingAndGlyphs" class="num">24</text>
<text x="388.40" y="456.35" font-size="9.7" text-anchor="middle" font-weight="normal" fill="#231f20" textLength="8.80" lengthAdjust="spacingAndGlyphs" class="num">48</text>
<text x="427.50" y="456.35" font-size="9.7" text-anchor="middle" font-weight="normal" fill="#231f20" textLength="8.80" lengthAdjust="spacingAndGlyphs" class="num">72</text>
<text x="466.60" y="456.35" font-size="9.7" text-anchor="middle" font-weight="normal" fill="#231f20" textLength="8.80" lengthAdjust="spacingAndGlyphs" class="num">96</text>
<text x="505.70" y="456.35" font-size="9.7" text-anchor="middle" font-weight="normal" fill="#231f20" textLength="13.20" lengthAdjust="spacingAndGlyphs" class="num">120</text>
<text x="409.70" y="469.90" font-size="10.6" text-anchor="middle" font-weight="normal" fill="#231f20" textLength="44.60" lengthAdjust="spacingAndGlyphs" class="num">Time (hours)</text>
<text x="274.60" y="255.30" font-size="12.3" text-anchor="start" font-weight="bold" fill="#000" class="let">D</text>
<path d="M386.40000000000003,305.5H389.8M388.1,305.5V316M386.40000000000003,316H389.8" stroke="#63ae3d" stroke-width="0.85" stroke-opacity="0.8" fill="none"/>
<path d="M464.6,340H468.0M466.3,340V353M464.6,353H468.0" stroke="#63ae3d" stroke-width="0.85" stroke-opacity="0.8" fill="none"/>
<path d="M503.7,347H507.09999999999997M505.4,347V360M503.7,360H507.09999999999997" stroke="#63ae3d" stroke-width="0.85" stroke-opacity="0.8" fill="none"/>
<path d="M310.00,263.70 L323.10,280.00 L349.00,297.30 L388.10,311.00 L427.20,323.80 L466.30,346.50 L505.40,354.00" fill="none" stroke="#63ae3d" stroke-width="1.28" stroke-linejoin="round"/>
<path d="M310.00,260.90 L312.80,263.70 L310.00,266.50 L307.20,263.70Z" fill="#58a532"/>
<path d="M323.10,277.20 L325.90,280.00 L323.10,282.80 L320.30,280.00Z" fill="#58a532"/>
<path d="M349.00,294.50 L351.80,297.30 L349.00,300.10 L346.20,297.30Z" fill="#58a532"/>
<path d="M388.10,308.20 L390.90,311.00 L388.10,313.80 L385.30,311.00Z" fill="#58a532"/>
<path d="M427.20,321.00 L430.00,323.80 L427.20,326.60 L424.40,323.80Z" fill="#58a532"/>
<path d="M466.30,343.70 L469.10,346.50 L466.30,349.30 L463.50,346.50Z" fill="#58a532"/>
<path d="M505.40,351.20 L508.20,354.00 L505.40,356.80 L502.60,354.00Z" fill="#58a532"/>
<path d="M310.00,271.30 L323.10,283.80 L349.00,293.50 L388.10,310.80 L427.20,321.30 L466.30,336.50 L505.40,351.30" fill="none" stroke="#ae0029" stroke-width="1.28" stroke-dasharray="3.5,2" stroke-linejoin="round"/>
<path d="M310.00,268.50 L312.80,271.30 L310.00,274.10 L307.20,271.30Z" fill="#ae0029"/>
<path d="M323.10,281.00 L325.90,283.80 L323.10,286.60 L320.30,283.80Z" fill="#ae0029"/>
<path d="M349.00,290.70 L351.80,293.50 L349.00,296.30 L346.20,293.50Z" fill="#ae0029"/>
<path d="M388.10,308.00 L390.90,310.80 L388.10,313.60 L385.30,310.80Z" fill="#ae0029"/>
<path d="M427.20,318.50 L430.00,321.30 L427.20,324.10 L424.40,321.30Z" fill="#ae0029"/>
<path d="M466.30,333.70 L469.10,336.50 L466.30,339.30 L463.50,336.50Z" fill="#ae0029"/>
<path d="M505.40,348.50 L508.20,351.30 L505.40,354.10 L502.60,351.30Z" fill="#ae0029"/>
<path d="M321.40000000000003,275H324.8M323.1,275V283M321.40000000000003,283H324.8" stroke="#25437f" stroke-width="0.85" stroke-opacity="0.8" fill="none"/>
<path d="M347.3,286.7H350.7M349.0,286.7V296M347.3,296H350.7" stroke="#25437f" stroke-width="0.85" stroke-opacity="0.8" fill="none"/>
<path d="M386.40000000000003,307H389.8M388.1,307V316M386.40000000000003,316H389.8" stroke="#25437f" stroke-width="0.85" stroke-opacity="0.8" fill="none"/>
<path d="M425.5,308.8H428.9M427.2,308.8V325M425.5,325H428.9" stroke="#25437f" stroke-width="0.85" stroke-opacity="0.8" fill="none"/>
<path d="M464.6,332.5H468.0M466.3,332.5V346M464.6,346H468.0" stroke="#25437f" stroke-width="0.85" stroke-opacity="0.8" fill="none"/>
<path d="M503.7,333H507.09999999999997M505.4,333V347M503.7,347H507.09999999999997" stroke="#25437f" stroke-width="0.85" stroke-opacity="0.8" fill="none"/>
<path d="M310.00,268.80 L323.10,279.00 L349.00,291.50 L388.10,311.80 L427.20,316.30 L466.30,340.20 L505.40,340.20" fill="none" stroke="#25437f" stroke-width="1.28" stroke-linejoin="round"/>
<rect x="307.80" y="266.60" width="4.4" height="4.4" fill="#25437f"/>
<rect x="320.90" y="276.80" width="4.4" height="4.4" fill="#25437f"/>
<rect x="346.80" y="289.30" width="4.4" height="4.4" fill="#25437f"/>
<rect x="385.90" y="309.60" width="4.4" height="4.4" fill="#25437f"/>
<rect x="425.00" y="314.10" width="4.4" height="4.4" fill="#25437f"/>
<rect x="464.10" y="338.00" width="4.4" height="4.4" fill="#25437f"/>
<rect x="503.20" y="338.00" width="4.4" height="4.4" fill="#25437f"/>
<text x="440.80" y="403.60" font-size="8.6" text-anchor="start" font-weight="normal" fill="#231f20" textLength="17.20" lengthAdjust="spacingAndGlyphs">Mice</text>
<line x1="418.2" y1="411.7" x2="437.2" y2="411.7" stroke="#25437f" stroke-width="1.2"/>
<rect x="425.40" y="409.40" width="4.6" height="4.6" fill="#25437f"/>
<text x="440.80" y="414.20" font-size="8.6" text-anchor="start" font-weight="normal" fill="#231f20" textLength="59.00" lengthAdjust="spacingAndGlyphs">HemA t<tspan font-size="6.2" dy="2.2">1/2</tspan><tspan dy="-2.2">= 32 h</tspan></text>
<line x1="418.2" y1="423.1" x2="437.2" y2="423.1" stroke="#ae0029" stroke-width="1.2" stroke-dasharray="3,2"/>
<path d="M427.70,420.10 L430.70,423.10 L427.70,426.10 L424.70,423.10Z" fill="#ae0029"/>
<text x="440.80" y="425.60" font-size="8.6" text-anchor="start" font-weight="normal" fill="#231f20" textLength="68.80" lengthAdjust="spacingAndGlyphs">VWF Het t<tspan font-size="6.2" dy="2.2">1/2</tspan><tspan dy="-2.2">= 30 h</tspan></text>
<line x1="418.2" y1="434.5" x2="437.2" y2="434.5" stroke="#63ae3d" stroke-width="1.2"/>
<path d="M427.70,431.50 L430.70,434.50 L427.70,437.50 L424.70,434.50Z" fill="#58a532"/>
<text x="440.80" y="437.00" font-size="8.6" text-anchor="start" font-weight="normal" fill="#231f20" textLength="53.80" lengthAdjust="spacingAndGlyphs">DKO t<tspan font-size="6.2" dy="2.2">1/2</tspan><tspan dy="-2.2">= 27 h</tspan></text>
<line x1="55.0" y1="497.3" x2="55.0" y2="681.0" stroke="#231f20" stroke-width="1.6"/>
<line x1="54.2" y1="680.0" x2="253.5" y2="680.0" stroke="#231f20" stroke-width="2"/>
<line x1="51.6" y1="500.0" x2="55.0" y2="500.0" stroke="#231f20" stroke-width="1"/>
<line x1="52.6" y1="541.94" x2="55.0" y2="541.94" stroke="#231f20" stroke-width="0.9"/>
<line x1="52.6" y1="531.37" x2="55.0" y2="531.37" stroke="#231f20" stroke-width="0.9"/>
<line x1="52.6" y1="523.88" x2="55.0" y2="523.88" stroke="#231f20" stroke-width="0.9"/>
<line x1="52.6" y1="518.06" x2="55.0" y2="518.06" stroke="#231f20" stroke-width="0.9"/>
<line x1="52.6" y1="513.31" x2="55.0" y2="513.31" stroke="#231f20" stroke-width="0.9"/>
<line x1="52.6" y1="509.29" x2="55.0" y2="509.29" stroke="#231f20" stroke-width="0.9"/>
<line x1="52.6" y1="505.81" x2="55.0" y2="505.81" stroke="#231f20" stroke-width="0.9"/>
<line x1="52.6" y1="502.75" x2="55.0" y2="502.75" stroke="#231f20" stroke-width="0.9"/>
<line x1="51.6" y1="560.0" x2="55.0" y2="560.0" stroke="#231f20" stroke-width="1"/>
<line x1="52.6" y1="601.94" x2="55.0" y2="601.94" stroke="#231f20" stroke-width="0.9"/>
<line x1="52.6" y1="591.37" x2="55.0" y2="591.37" stroke="#231f20" stroke-width="0.9"/>
<line x1="52.6" y1="583.88" x2="55.0" y2="583.88" stroke="#231f20" stroke-width="0.9"/>
<line x1="52.6" y1="578.06" x2="55.0" y2="578.06" stroke="#231f20" stroke-width="0.9"/>
<line x1="52.6" y1="573.31" x2="55.0" y2="573.31" stroke="#231f20" stroke-width="0.9"/>
<line x1="52.6" y1="569.29" x2="55.0" y2="569.29" stroke="#231f20" stroke-width="0.9"/>
<line x1="52.6" y1="565.81" x2="55.0" y2="565.81" stroke="#231f20" stroke-width="0.9"/>
<line x1="52.6" y1="562.75" x2="55.0" y2="562.75" stroke="#231f20" stroke-width="0.9"/>
<line x1="51.6" y1="620.0" x2="55.0" y2="620.0" stroke="#231f20" stroke-width="1"/>
<line x1="52.6" y1="661.94" x2="55.0" y2="661.94" stroke="#231f20" stroke-width="0.9"/>
<line x1="52.6" y1="651.37" x2="55.0" y2="651.37" stroke="#231f20" stroke-width="0.9"/>
<line x1="52.6" y1="643.88" x2="55.0" y2="643.88" stroke="#231f20" stroke-width="0.9"/>
<line x1="52.6" y1="638.06" x2="55.0" y2="638.06" stroke="#231f20" stroke-width="0.9"/>
<line x1="52.6" y1="633.31" x2="55.0" y2="633.31" stroke="#231f20" stroke-width="0.9"/>
<line x1="52.6" y1="629.29" x2="55.0" y2="629.29" stroke="#231f20" stroke-width="0.9"/>
<line x1="52.6" y1="625.81" x2="55.0" y2="625.81" stroke="#231f20" stroke-width="0.9"/>
<line x1="52.6" y1="622.75" x2="55.0" y2="622.75" stroke="#231f20" stroke-width="0.9"/>
<line x1="51.6" y1="680.0" x2="55.0" y2="680.0" stroke="#231f20" stroke-width="1"/>
<line x1="55.00" y1="680.0" x2="55.00" y2="682.8" stroke="#231f20" stroke-width="1"/>
<line x1="94.24" y1="680.0" x2="94.24" y2="682.8" stroke="#231f20" stroke-width="1"/>
<line x1="133.48" y1="680.0" x2="133.48" y2="682.8" stroke="#231f20" stroke-width="1"/>
<line x1="172.72" y1="680.0" x2="172.72" y2="682.8" stroke="#231f20" stroke-width="1"/>
<line x1="211.96" y1="680.0" x2="211.96" y2="682.8" stroke="#231f20" stroke-width="1"/>
<line x1="251.20" y1="680.0" x2="251.20" y2="682.8" stroke="#231f20" stroke-width="1"/>
<text x="48.80" y="502.30" font-size="9.7" text-anchor="end" font-weight="normal" fill="#231f20" textLength="14.10" lengthAdjust="spacingAndGlyphs" class="num">100</text>
<text x="48.80" y="562.30" font-size="9.7" text-anchor="end" font-weight="normal" fill="#231f20" textLength="9.40" lengthAdjust="spacingAndGlyphs" class="num">10</text>
<text x="48.80" y="622.30" font-size="9.7" text-anchor="end" font-weight="normal" fill="#231f20" textLength="4.70" lengthAdjust="spacingAndGlyphs" class="num">1</text>
<text x="48.80" y="682.30" font-size="9.7" text-anchor="end" font-weight="normal" fill="#231f20" textLength="11.80" lengthAdjust="spacingAndGlyphs" class="num">0.1</text>
<text x="55.00" y="694.05" font-size="9.7" text-anchor="middle" font-weight="normal" fill="#231f20" textLength="4.40" lengthAdjust="spacingAndGlyphs" class="num">0</text>
<text x="74.62" y="694.05" font-size="9.7" text-anchor="middle" font-weight="normal" fill="#231f20" textLength="8.80" lengthAdjust="spacingAndGlyphs" class="num">24</text>
<text x="94.24" y="694.05" font-size="9.7" text-anchor="middle" font-weight="normal" fill="#231f20" textLength="8.80" lengthAdjust="spacingAndGlyphs" class="num">48</text>
<text x="113.86" y="694.05" font-size="9.7" text-anchor="middle" font-weight="normal" fill="#231f20" textLength="8.80" lengthAdjust="spacingAndGlyphs" class="num">72</text>
<text x="133.48" y="694.05" font-size="9.7" text-anchor="middle" font-weight="normal" fill="#231f20" textLength="8.80" lengthAdjust="spacingAndGlyphs" class="num">96</text>
<text x="153.10" y="694.05" font-size="9.7" text-anchor="middle" font-weight="normal" fill="#231f20" textLength="13.20" lengthAdjust="spacingAndGlyphs" class="num">120</text>
<text x="172.72" y="694.05" font-size="9.7" text-anchor="middle" font-weight="normal" fill="#231f20" textLength="13.20" lengthAdjust="spacingAndGlyphs" class="num">144</text>
<text x="192.34" y="694.05" font-size="9.7" text-anchor="middle" font-weight="normal" fill="#231f20" textLength="13.20" lengthAdjust="spacingAndGlyphs" class="num">168</text>
<text x="211.96" y="694.05" font-size="9.7" text-anchor="middle" font-weight="normal" fill="#231f20" textLength="13.20" lengthAdjust="spacingAndGlyphs" class="num">192</text>
<text x="231.58" y="694.05" font-size="9.7" text-anchor="middle" font-weight="normal" fill="#231f20" textLength="13.20" lengthAdjust="spacingAndGlyphs" class="num">216</text>
<text x="251.20" y="694.05" font-size="9.7" text-anchor="middle" font-weight="normal" fill="#231f20" textLength="13.20" lengthAdjust="spacingAndGlyphs" class="num">240</text>
<text x="154.50" y="707.60" font-size="10.6" text-anchor="middle" font-weight="normal" fill="#231f20" textLength="44.60" lengthAdjust="spacingAndGlyphs" class="num">Time (hours)</text>
<g transform="translate(16.200000000000003,588.5) rotate(-90)">
<text x="0.00" y="0.00" font-size="10.4" text-anchor="middle" font-weight="normal" fill="#231f20" textLength="71.60" lengthAdjust="spacingAndGlyphs">FVIII plasma activity</text>
<text x="0.00" y="12.70" font-size="10.4" text-anchor="middle" font-weight="normal" fill="#231f20" textLength="83.20" lengthAdjust="spacingAndGlyphs">normalized to dose (%)</text>
</g>
<text x="8.10" y="493.00" font-size="12.3" text-anchor="start" font-weight="bold" fill="#000" class="let">E</text>
<path d="M55.30,501.00 L61.80,513.00 L74.90,530.00 L94.30,548.00 L113.80,565.00 L152.70,593.00 L191.90,617.50" fill="none" stroke="#c9b6d9" stroke-width="1.2" stroke-dasharray="3,2" stroke-linejoin="round"/>
<circle cx="55.30" cy="501.00" r="2.20" fill="#c9b6d9"/>
<circle cx="61.80" cy="513.00" r="2.20" fill="#c9b6d9"/>
<circle cx="74.90" cy="530.00" r="2.20" fill="#c9b6d9"/>
<circle cx="94.30" cy="548.00" r="2.20" fill="#c9b6d9"/>
<circle cx="113.80" cy="565.00" r="2.20" fill="#c9b6d9"/>
<circle cx="152.70" cy="593.00" r="2.20" fill="#c9b6d9"/>
<circle cx="191.90" cy="617.50" r="2.20" fill="#c9b6d9"/>
<path d="M55.30,499.50 L61.80,512.00 L74.90,531.00 L94.30,547.50 L113.80,563.50 L152.70,590.00 L191.90,614.30 L231.20,635.30" fill="none" stroke="#65398a" stroke-width="1.3" stroke-linejoin="round"/>
<path d="M52.50,497.40 L58.10,497.40 L55.30,501.88Z" fill="#65398a"/>
<path d="M59.00,509.90 L64.60,509.90 L61.80,514.38Z" fill="#65398a"/>
<path d="M72.10,528.90 L77.70,528.90 L74.90,533.38Z" fill="#65398a"/>
<path d="M91.50,545.40 L97.10,545.40 L94.30,549.88Z" fill="#65398a"/>
<path d="M111.00,561.40 L116.60,561.40 L113.80,565.88Z" fill="#65398a"/>
<path d="M149.90,587.90 L155.50,587.90 L152.70,592.38Z" fill="#65398a"/>
<path d="M189.10,612.20 L194.70,612.20 L191.90,616.68Z" fill="#65398a"/>
<path d="M228.40,633.20 L234.00,633.20 L231.20,637.68Z" fill="#65398a"/>
<path d="M112.1,553H115.5M113.8,553V561M112.1,561H115.5" stroke="#a892bb" stroke-width="0.85" stroke-opacity="0.8" fill="none"/>
<path d="M151.0,584H154.39999999999998M152.7,584V591.5M151.0,591.5H154.39999999999998" stroke="#a892bb" stroke-width="0.85" stroke-opacity="0.8" fill="none"/>
<path d="M190.20000000000002,603H193.6M191.9,603V612M190.20000000000002,612H193.6" stroke="#a892bb" stroke-width="0.85" stroke-opacity="0.8" fill="none"/>
<path d="M229.5,620H232.89999999999998M231.2,620V634M229.5,634H232.89999999999998" stroke="#a892bb" stroke-width="0.85" stroke-opacity="0.8" fill="none"/>
<path d="M55.30,498.00 L61.80,508.00 L74.90,526.50 L94.30,542.00 L113.80,557.00 L152.70,584.00 L191.90,607.50 L231.20,628.30" fill="none" stroke="#8a6aa3" stroke-width="1.3" stroke-dasharray="3,2" stroke-linejoin="round"/>
<circle cx="55.30" cy="498.00" r="2.20" fill="#8a6aa3"/>
<circle cx="61.80" cy="508.00" r="2.20" fill="#8a6aa3"/>
<circle cx="74.90" cy="526.50" r="2.20" fill="#8a6aa3"/>
<circle cx="94.30" cy="542.00" r="2.20" fill="#8a6aa3"/>
<circle cx="113.80" cy="557.00" r="2.20" fill="#8a6aa3"/>
<circle cx="152.70" cy="584.00" r="2.20" fill="#8a6aa3"/>
<circle cx="191.90" cy="607.50" r="2.20" fill="#8a6aa3"/>
<circle cx="231.20" cy="628.30" r="2.20" fill="#8a6aa3"/>
<path d="M92.6,534.4H96.0M94.3,534.4V538.8M92.6,538.8H96.0" stroke="#a892bb" stroke-width="0.85" stroke-opacity="0.8" fill="none"/>
<path d="M112.1,548.5H115.5M113.8,548.5V553.5M112.1,553.5H115.5" stroke="#a892bb" stroke-width="0.85" stroke-opacity="0.8" fill="none"/>
<path d="M151.0,571.5H154.39999999999998M152.7,571.5V581.2M151.0,581.2H154.39999999999998" stroke="#a892bb" stroke-width="0.85" stroke-opacity="0.8" fill="none"/>
<path d="M190.20000000000002,598.7H193.6M191.9,598.7V605M190.20000000000002,605H193.6" stroke="#a892bb" stroke-width="0.85" stroke-opacity="0.8" fill="none"/>
<path d="M229.5,614.8H232.89999999999998M231.2,614.8V623.8M229.5,623.8H232.89999999999998" stroke="#a892bb" stroke-width="0.85" stroke-opacity="0.8" fill="none"/>
<path d="M55.30,496.00 L61.80,506.80 L74.90,521.80 L94.30,538.80 L113.80,553.50 L152.70,581.20 L191.90,605.00 L231.20,623.80" fill="none" stroke="#4a1b63" stroke-width="1.6" stroke-linejoin="round"/>
<path d="M52.40,493.82 L58.20,493.82 L55.30,498.46Z" fill="#4a1b63"/>
<path d="M58.90,504.62 L64.70,504.62 L61.80,509.26Z" fill="#4a1b63"/>
<path d="M72.00,519.62 L77.80,519.62 L74.90,524.26Z" fill="#4a1b63"/>
<path d="M91.40,536.62 L97.20,536.62 L94.30,541.26Z" fill="#4a1b63"/>
<path d="M110.90,551.33 L116.70,551.33 L113.80,555.97Z" fill="#4a1b63"/>
<path d="M149.80,579.03 L155.60,579.03 L152.70,583.67Z" fill="#4a1b63"/>
<path d="M189.00,602.83 L194.80,602.83 L191.90,607.47Z" fill="#4a1b63"/>
<path d="M228.30,621.62 L234.10,621.62 L231.20,626.26Z" fill="#4a1b63"/>
<text x="180.50" y="563.80" font-size="8" text-anchor="start" font-weight="normal" fill="#231f20" textLength="64.00" lengthAdjust="spacingAndGlyphs">t<tspan font-size="6.2" dy="2.2">1/2</tspan><tspan dy="-2.2"> (ELISA) = 32 h</tspan></text>
<text x="180.50" y="577.10" font-size="8" text-anchor="start" font-weight="normal" fill="#231f20" textLength="111.30" lengthAdjust="spacingAndGlyphs">t<tspan font-size="6.2" dy="2.2">1/2</tspan><tspan dy="-2.2"> (chromogenic assay) = 33 h</tspan></text>
<text x="276.80" y="622.90" font-size="8.6" text-anchor="start" font-weight="normal" fill="#231f20" textLength="31.40" lengthAdjust="spacingAndGlyphs">Monkeys</text>
<line x1="253.5" y1="630.8" x2="272.5" y2="630.8" stroke="#c9b6d9" stroke-width="1.6" stroke-dasharray="3,2.2"/>
<circle cx="263.00" cy="630.80" r="2.30" fill="#c9b6d9"/>
<text x="276.80" y="633.30" font-size="8.6" text-anchor="start" font-weight="normal" fill="#231f20" textLength="66.70" lengthAdjust="spacingAndGlyphs">100 IU/kg IV, ELISA</text>
<line x1="253.5" y1="642.5" x2="272.5" y2="642.5" stroke="#65398a" stroke-width="1.5"/>
<path d="M259.90,640.17 L266.10,640.17 L263.00,645.13Z" fill="#65398a"/>
<text x="276.80" y="645.00" font-size="8.6" text-anchor="start" font-weight="normal" fill="#231f20" textLength="114.00" lengthAdjust="spacingAndGlyphs">100 IU/kg IV, chromogenic assay</text>
<line x1="253.5" y1="653.9" x2="272.5" y2="653.9" stroke="#8a6aa3" stroke-width="1.6" stroke-dasharray="3,2.2"/>
<circle cx="263.00" cy="653.90" r="2.30" fill="#8a6aa3"/>
<text x="276.80" y="656.40" font-size="8.6" text-anchor="start" font-weight="normal" fill="#231f20" textLength="66.70" lengthAdjust="spacingAndGlyphs">300 IU/kg IV, ELISA</text>
<line x1="253.5" y1="665.2" x2="272.5" y2="665.2" stroke="#4a1b63" stroke-width="1.6"/>
<path d="M259.90,662.88 L266.10,662.88 L263.00,667.84Z" fill="#4a1b63"/>
<text x="276.80" y="667.70" font-size="8.6" text-anchor="start" font-weight="normal" fill="#231f20" textLength="114.00" lengthAdjust="spacingAndGlyphs">300 IU/kg IV, chromogenic assay</text>
<rect x="1" y="1" width="1" height="716" fill="#9a9a9a"/>
<rect x="1" y="1" width="518" height="1" fill="#cdcdcd"/>
<rect x="518" y="1" width="1" height="716" fill="#b8b8b8"/>
<rect x="1" y="716" width="518" height="1" fill="#c4c4c4"/>
</svg></div></body></html>
